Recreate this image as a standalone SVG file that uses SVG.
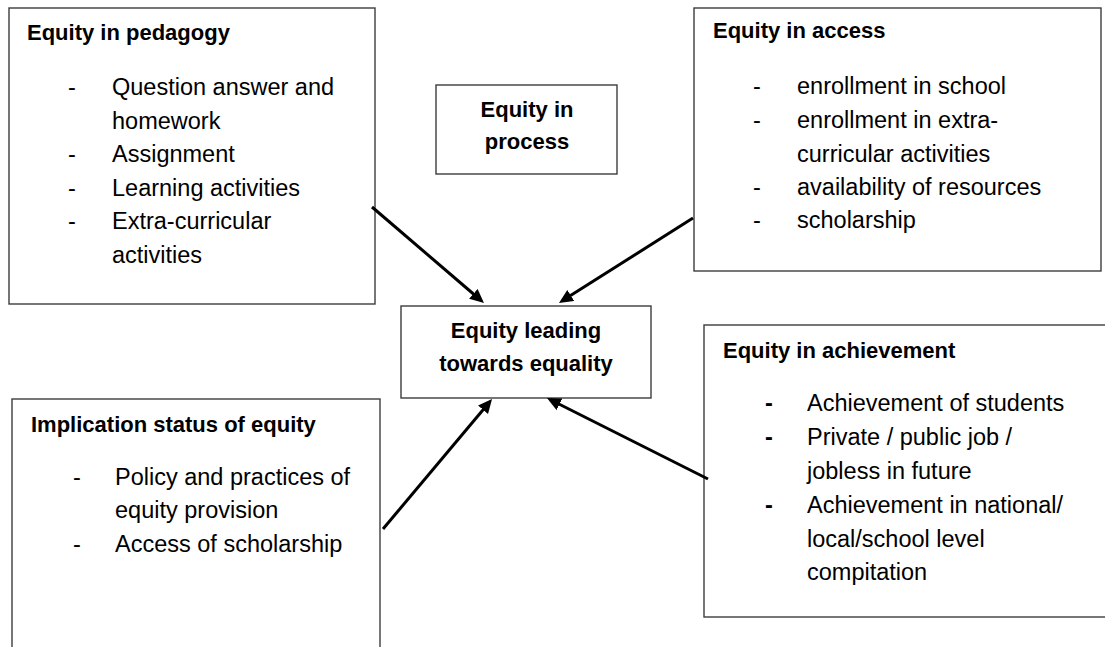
<svg xmlns="http://www.w3.org/2000/svg" width="1105" height="647" viewBox="0 0 1105 647">
<style>
.box{fill:#fff;stroke:#3c3c3c;stroke-width:1.4}
.t{font-family:"Liberation Sans",Arial,sans-serif;font-size:22px;font-weight:bold;fill:#000}
.i{font-family:"Liberation Sans",Arial,sans-serif;font-size:23.5px;fill:#000}
.c{text-anchor:middle}
.arr{stroke:#000;stroke-width:3;fill:none;marker-end:url(#ah)}
</style>
<defs>
<marker id="ah" markerUnits="userSpaceOnUse" markerWidth="16" markerHeight="14" refX="4" refY="6.5" orient="auto">
<path d="M0,0 L14,6.5 L0,13 z" fill="#000"/>
</marker>
</defs>
<rect width="1105" height="647" fill="#fff"/>
<g id="pedagogy">
<rect class="box" x="9" y="8" width="366" height="296"/>
<text class="t" x="27" y="40">Equity in pedagogy</text>
<text class="i" x="68" y="95">-</text><text class="i" x="112" y="95">Question answer and</text>
<text class="i" x="112" y="128.6">homework</text>
<text class="i" x="68" y="162.2">-</text><text class="i" x="112" y="162.2">Assignment</text>
<text class="i" x="68" y="195.8">-</text><text class="i" x="112" y="195.8">Learning activities</text>
<text class="i" x="68" y="229.4">-</text><text class="i" x="112" y="229.4">Extra-curricular</text>
<text class="i" x="112" y="263">activities</text>
</g>
<g id="access">
<rect class="box" x="694" y="8" width="407" height="263"/>
<text class="t" x="713" y="38">Equity in access</text>
<text class="i" x="753" y="94">-</text><text class="i" x="797" y="94">enrollment in school</text>
<text class="i" x="753" y="128">-</text><text class="i" x="797" y="128">enrollment in extra-</text>
<text class="i" x="797" y="162">curricular activities</text>
<text class="i" x="753" y="195">-</text><text class="i" x="797" y="195">availability of resources</text>
<text class="i" x="753" y="228">-</text><text class="i" x="797" y="228">scholarship</text>
</g>
<g id="process">
<rect class="box" x="436" y="85" width="181" height="89"/>
<text class="t c" x="527" y="117">Equity in</text>
<text class="t c" x="527" y="149">process</text>
</g>
<g id="center">
<rect class="box" x="401" y="306" width="250" height="92"/>
<text class="t c" x="526" y="338">Equity leading</text>
<text class="t c" x="526" y="371">towards equality</text>
</g>
<g id="implication">
<rect class="box" x="12" y="399" width="368" height="260"/>
<text class="t" x="31" y="432">Implication status of equity</text>
<text class="i" x="73" y="485">-</text><text class="i" x="115" y="485">Policy and practices of</text>
<text class="i" x="115" y="518">equity provision</text>
<text class="i" x="73" y="552">-</text><text class="i" x="115" y="552">Access of scholarship</text>
</g>
<g id="achievement">
<rect class="box" x="704" y="325" width="410" height="292"/>
<text class="t" x="723" y="358">Equity in achievement</text>
<text class="i" x="765" y="411" font-weight="bold">-</text><text class="i" x="807" y="411">Achievement of students</text>
<text class="i" x="765" y="445" font-weight="bold">-</text><text class="i" x="807" y="445">Private / public job /</text>
<text class="i" x="807" y="479">jobless in future</text>
<text class="i" x="765" y="513" font-weight="bold">-</text><text class="i" x="807" y="513">Achievement in national/</text>
<text class="i" x="807" y="547">local/school level</text>
<text class="i" x="807" y="580">compitation</text>
</g>
<g id="connectors">
<line class="arr" x1="372" y1="207" x2="476.4" y2="296.5"/>
<line class="arr" x1="693" y1="218" x2="567.4" y2="297.6"/>
<line class="arr" x1="383" y1="529" x2="485.6" y2="406.7"/>
<line class="arr" x1="708" y1="479" x2="555.9" y2="402.5"/>
</g>
</svg>
